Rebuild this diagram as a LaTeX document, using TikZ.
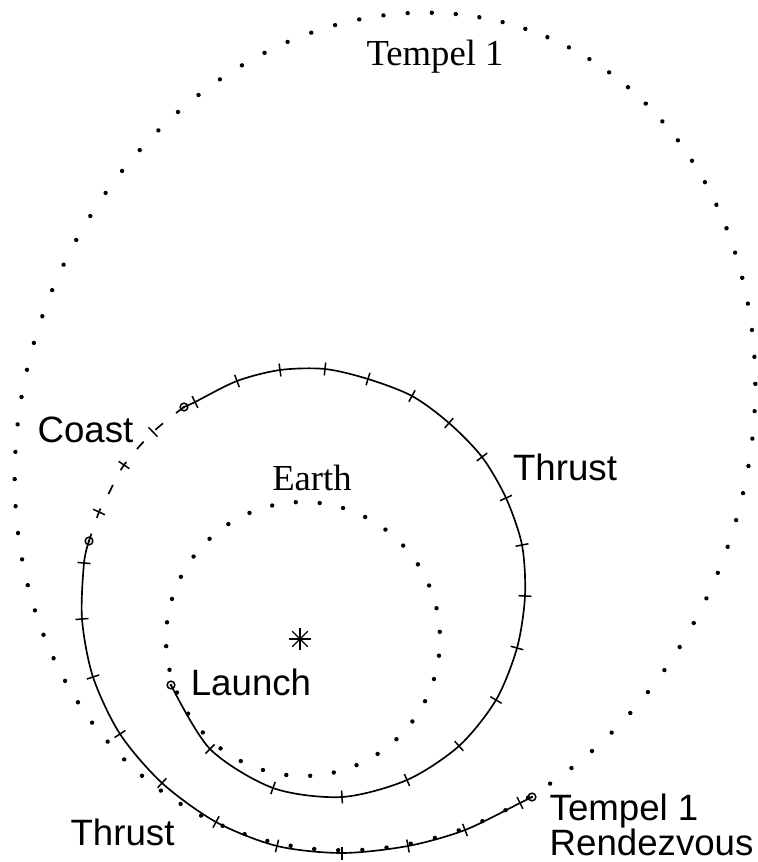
\documentclass[tikz,border=0pt]{standalone}
\usepackage{fontspec}
\setmainfont{Liberation Serif}
\setsansfont{Liberation Sans}
\usetikzlibrary{calc}

\begin{document}
\begin{tikzpicture}[
  x=0.3pt, y=0.3pt,
  traj/.style={line width=0.5pt},
  coastline/.style={line width=0.5pt,dash pattern=on 3pt off 5pt},
  tickmark/.style={line width=0.45pt},
  orbitdot/.style={fill=black},
  marker/.style={circle,draw,inner sep=0pt,minimum size=2.3pt,line width=0.45pt,
                 path picture={\fill (path picture bounding box.center) circle (0.45pt);}},
  sanslbl/.style={font=\fontsize{11}{10.5}\selectfont\sffamily,inner sep=0pt},
  seriflbl/.style={font=\fontsize{11}{13}\selectfont,inner sep=0pt}]

  \useasboundingbox (0,0) rectangle (758,862);

  % orbits
  \coordinate (sun) at (300,223);
  \coordinate (earthc) at (303,223);
  \foreach \t in {3,13,...,353}
    \fill[orbitdot] (earthc) ++(\t:137) circle (0.66pt);
  \begin{scope}[shift={(385,430.5)},rotate=69.2]
    \foreach \t in {1.875,5.625,...,360}
      \fill[orbitdot] (\t:426.5 and 361.5) circle (0.66pt);
  \end{scope}

  % sun
  \foreach \a in {0,45,90,135}
    \draw[line width=0.4pt] (sun) ++(\a:11) -- ++(\a+180:22);

  % trajectory
  \node[marker] (launch) at (171,177) {};
  \node[marker] (coastA) at (184,455) {};
  \node[marker] (coastB) at (89,321) {};
  \node[marker] (rdv) at (532,65) {};

  \draw[traj] plot[smooth] coordinates {(launch.center) (210,113) (273,74) (342,65)
    (407,82) (459,116) (496,162) (517,214) (525,266) (522,317) (506,364) (482,405)
    (449,439) (412,466) (368,483) (325,493) (280,492) (237,481) (195,460) (coastA.center)};
  \draw[coastline] plot[smooth] coordinates {(coastA.center) (153,430) (124,397)
    (107,365) (99,350) (coastB.center)};
  \draw[traj] plot[smooth] coordinates {(coastB.center) (84,299) (82,243) (93,185)
    (120,128) (162,79) (216,40) (277,16) (342,9) (408,16) (465,32) (520,59) (rdv.center)};

  \foreach \x/\y/\a in {210/113/44.7, 273/74/70, 342/65/93.4, 407/82/113.6,
      459/116/132, 496/162/149.4, 517/214/164.4, 525/266/177.2, 522/317/191,
      506/364/204.4, 482/405/217.2, 449/439/228.9, 412/466/241.5, 368/483/252.8,
      325/493/264.2, 280/492/277.8, 237/481/290.6, 195/460/296,
      153/430/134, 124/397/146, 99/350/155,
      84/299/174.9, 82/243/4.5, 93/185/18.3, 120/128/33, 162/79/47.5, 216/40/61.3,
      277/16/76.2, 342/9/90, 408/16/100.6, 465/32/111, 520/59/116.2}
    \draw[tickmark] (\x,\y) ++(\a:6.5) -- ++(\a+180:13);

  % labels
  \node[seriflbl,anchor=base] (tempel) at (435,797) {Tempel 1};
  \node[seriflbl,anchor=base] (earth) at (312,371) {Earth};
  \node[sanslbl,anchor=base] (coast) at (85.5,420) {Coast};
  \node[sanslbl,anchor=base] (thrustR) at (565,382) {Thrust};
  \node[sanslbl,anchor=base] (thrustL) at (122.5,17) {Thrust};
  \node[sanslbl,anchor=base] (launchlbl) at (251,167) {Launch};
  \node[sanslbl,anchor=north west,align=left] (rdvlbl) at (549,69) {Tempel 1\\Rendezvous};
\end{tikzpicture}
\end{document}
